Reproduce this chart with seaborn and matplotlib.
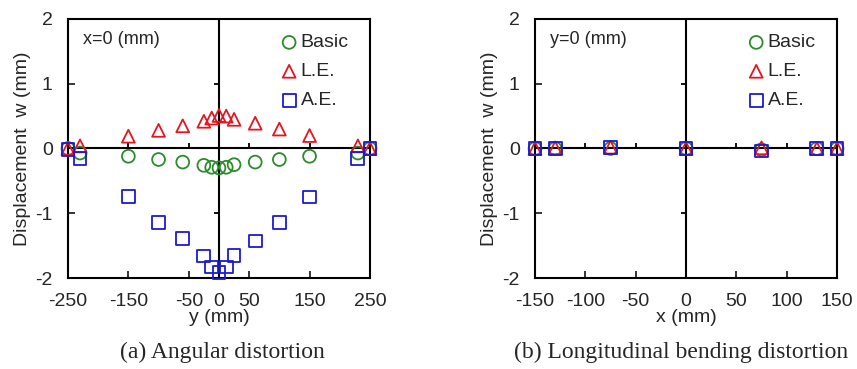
import matplotlib
matplotlib.use('Agg')
import matplotlib.pyplot as plt
import seaborn as sns

# (a) angular distortion, section x=0
y_pos = [-250, -230, -150, -100, -60, -25, -12, 0, 12, 25, 60, 100, 150, 230, 250]
basic_a = [0.0, -0.07, -0.12, -0.17, -0.21, -0.26, -0.29, -0.30, -0.29, -0.25, -0.21, -0.17, -0.12, -0.07, 0.0]
le_a = [0.0, 0.04, 0.19, 0.28, 0.35, 0.42, 0.47, 0.51, 0.50, 0.45, 0.39, 0.30, 0.20, 0.04, 0.0]
ae_a = [-0.02, -0.16, -0.74, -1.14, -1.39, -1.66, -1.83, -1.91, -1.83, -1.65, -1.43, -1.14, -0.75, -0.16, 0.0]

# (b) longitudinal bending distortion, section y=0
x_pos = [-150, -130, -75, 0, 75, 130, 150]
basic_b = [0.0, 0.0, 0.0, 0.0, -0.02, 0.0, 0.0]
le_b = [0.0, 0.01, 0.02, 0.0, 0.01, 0.0, 0.0]
ae_b = [0.0, 0.0, 0.02, 0.0, -0.04, 0.0, 0.0]

series_names = ['Basic', 'L.E.', 'A.E.']
colors = ['#2a8c2a', '#e8141e', '#1a1ad2']
markers = ['o', '^', 's']

xticks_a = [-250, -150, -50, 0, 50, 150, 250]
xticks_b = [-150, -100, -50, 0, 50, 100, 150]
yticks = [-2, -1, 0, 1, 2]

sns.set_style('ticks')
plt.rcParams['font.family'] = ['Liberation Sans', 'DejaVu Sans']
plt.rcParams['axes.unicode_minus'] = False

fig = plt.figure(figsize=(8.57, 3.69), dpi=100)
ax_a = fig.add_axes([0.0793, 0.2466, 0.3524, 0.702])
ax_b = fig.add_axes([0.6243, 0.2466, 0.3524, 0.702])


def draw_panel(ax, xs, ys_list, xlim, xticks, xlabel, note):
    for name, ys, c, m in zip(series_names, ys_list, colors, markers):
        sns.scatterplot(x=xs, y=ys, ax=ax, marker=m, s=85, color=c,
                        facecolors='none', edgecolor=c, linewidth=1.3,
                        label=name, clip_on=False, zorder=3)
    ax.set_xlim(*xlim)
    ax.set_ylim(-2, 2)
    ax.axhline(0, color='black', lw=1.5, zorder=2)
    ax.axvline(0, color='black', lw=1.5, zorder=2)
    # small ticks along the zero lines
    inner_x = [t for t in xticks if t not in (0, xlim[0], xlim[1])]
    ax.vlines(inner_x, 0, 0.08, color='black', lw=1.3)
    span = xlim[1] - xlim[0]
    ax.hlines([-1, 1], -span * 0.016, 0, color='black', lw=1.3)
    ax.set_xticks(xticks)
    ax.set_yticks(yticks)
    ax.tick_params(direction='in', length=5, width=1.3, labelsize=14, pad=11)
    for sp in ax.spines.values():
        sp.set_linewidth(1.5)
        sp.set_color('black')
    ax.set_xlabel(xlabel, fontsize=14, labelpad=-1)
    ax.set_ylabel('Displacement  w (mm)', fontsize=14, labelpad=3)
    ax.text(0.05, 0.92, note, transform=ax.transAxes, fontsize=13, va='center', ha='left')
    ax.legend(loc='upper right', frameon=False, fontsize=14, handletextpad=0.0,
              labelspacing=0.58, borderaxespad=0.3, handlelength=1.2,
              bbox_to_anchor=(0.975, 0.995))


draw_panel(ax_a, y_pos, [basic_a, le_a, ae_a], (-250, 250), xticks_a, 'y (mm)', 'x=0 (mm)')
draw_panel(ax_b, x_pos, [basic_b, le_b, ae_b], (-150, 150), xticks_b, 'x (mm)', 'y=0 (mm)')

fig.text(0.259, 0.046, '(a) Angular distortion', ha='center', va='center',
         fontsize=17, family=['Liberation Serif', 'DejaVu Serif'])
fig.text(0.795, 0.046, '(b) Longitudinal bending distortion', ha='center', va='center',
         fontsize=17, family=['Liberation Serif', 'DejaVu Serif'])

fig.savefig('out.png', dpi=100)
